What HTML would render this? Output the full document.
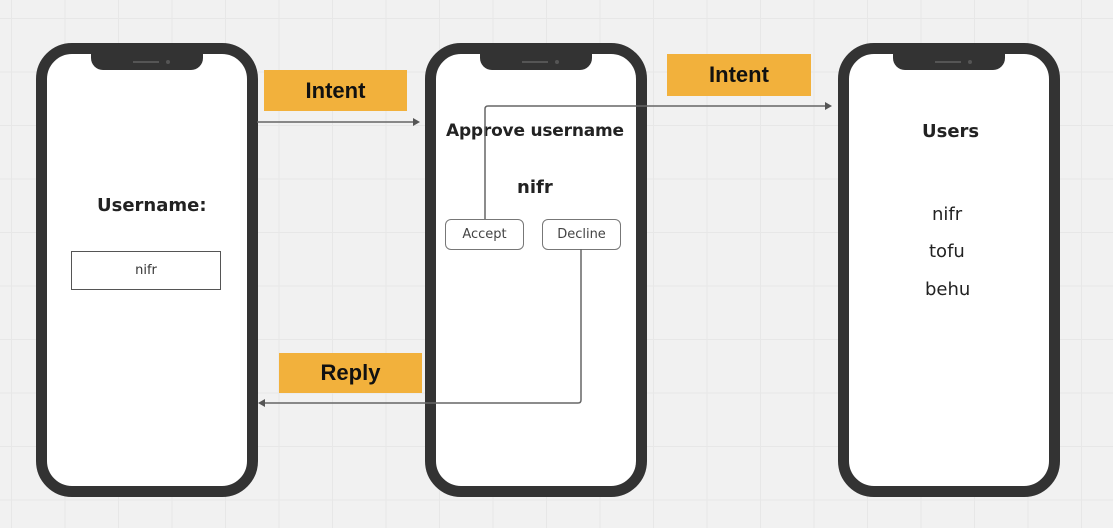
<!DOCTYPE html>
<html><head><style>
body{margin:0;width:1113px;height:528px;overflow:hidden;background:#f1f1f1;
background-image:linear-gradient(#e7e7e7 1px,transparent 1px),linear-gradient(90deg,#e7e7e7 1px,transparent 1px);
background-size:53.5px 53.5px;background-position:11px 18px;font-family:"DejaVu Sans","Liberation Sans",sans-serif;position:relative}
.ph{position:absolute;top:43px;width:200px;height:432px;border:11px solid #333;border-radius:36px;background:#fff}
.notch{position:absolute;top:-1px;left:44px;width:112px;height:17px;background:#333;border-radius:0 0 12px 12px}
.notch:before{content:"";position:absolute;left:42px;top:8px;width:26px;height:2px;background:#555}
.notch:after{content:"";position:absolute;left:75px;top:7px;width:4px;height:4px;border-radius:50%;background:#555}
.t{position:absolute;color:#222;white-space:nowrap}
.lab{position:absolute;background:#f2b13c;color:#111;font-family:"Liberation Sans",sans-serif;font-size:22px;font-weight:bold;display:flex;align-items:center;justify-content:center}
.btn{position:absolute;border:1.5px solid #777;border-radius:6px;font-size:13px;color:#444;display:flex;align-items:center;justify-content:center;background:#fff}
</style></head><body>
<div class="ph" style="left:36px"><div class="notch"></div></div>
<div class="ph" style="left:425px"><div class="notch"></div></div>
<div class="ph" style="left:838px"><div class="notch"></div></div>

<div class="t" style="left:97px;top:195px;font-size:18px;font-weight:bold">Username:</div>
<div style="position:absolute;left:71px;top:251px;width:148px;height:37px;border:1.5px solid #555;display:flex;align-items:center;justify-content:center;font-size:13px;color:#333">nifr</div>

<div class="t" style="left:446px;top:121px;font-size:17px;font-weight:bold;letter-spacing:-0.2px">Approve username</div>
<div class="t" style="left:517px;top:177px;font-size:18px;font-weight:bold">nifr</div>
<div class="btn" style="left:445px;top:219px;width:77px;height:29px">Accept</div>
<div class="btn" style="left:542px;top:219px;width:77px;height:29px">Decline</div>

<div class="t" style="left:922px;top:121px;font-size:18px;font-weight:bold">Users</div>
<div class="t" style="left:932px;top:204px;font-size:18px">nifr</div>
<div class="t" style="left:929px;top:241px;font-size:18px">tofu</div>
<div class="t" style="left:925px;top:279px;font-size:18px">behu</div>

<svg width="1113" height="528" style="position:absolute;left:0;top:0" fill="none">
<g stroke="#666" stroke-width="1.5">
<path d="M257 122H416"/>
<path d="M485 219V109Q485 106 488 106H826"/>
<path d="M581 249V400Q581 403 578 403H264"/>
</g>
<g fill="#555">
<path d="M420 122l-7-4v8z"/>
<path d="M832 106l-7-4v8z"/>
<path d="M258 403l7-4v8z"/>
</g>
</svg>

<div class="lab" style="left:264px;top:70px;width:143px;height:41px">Intent</div>
<div class="lab" style="left:667px;top:54px;width:144px;height:42px">Intent</div>
<div class="lab" style="left:279px;top:353px;width:143px;height:40px">Reply</div>
</body></html>
